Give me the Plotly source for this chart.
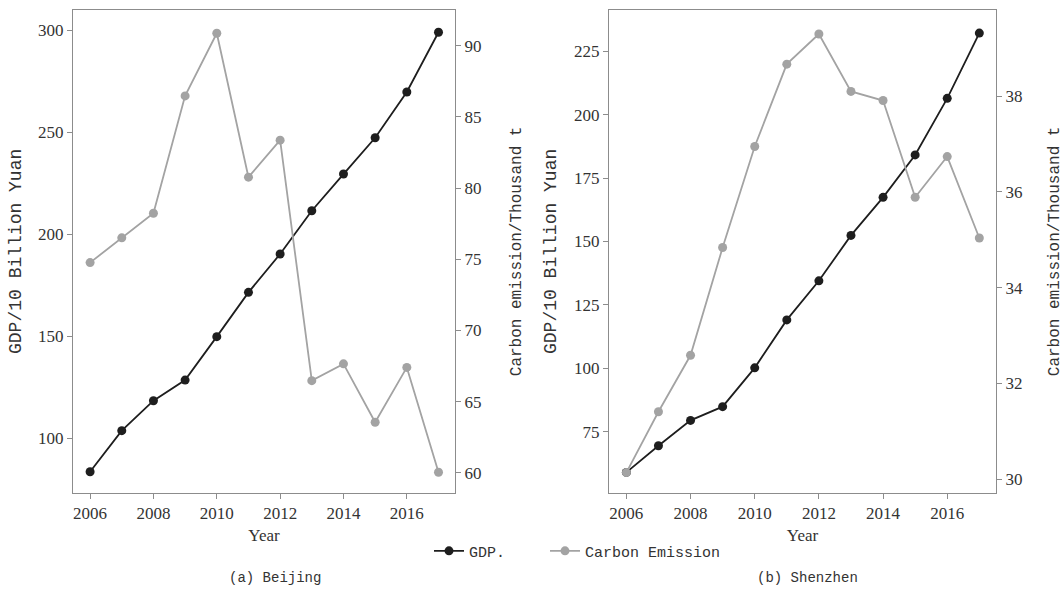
import plotly.graph_objects as go

years = [2006, 2007, 2008, 2009, 2010, 2011, 2012, 2013, 2014, 2015, 2016, 2017]

beijing_gdp = [83.5, 103.6, 118.3, 128.4, 149.7, 171.4, 190.2, 211.4, 229.4, 247.2, 269.6, 298.9]
beijing_carbon = [74.76, 76.5, 78.23, 86.47, 90.87, 80.76, 83.36, 66.47, 67.65, 63.55, 67.4, 60.04]

shenzhen_gdp = [59.0, 69.5, 79.5, 84.9, 100.2, 119.1, 134.5, 152.4, 167.4, 184.1, 206.4, 232.1]
shenzhen_carbon = [30.14, 31.41, 32.59, 34.84, 36.95, 38.67, 39.3, 38.1, 37.91, 35.89, 36.74, 35.04]

x_ticks = [2006, 2008, 2010, 2012, 2014, 2016]
bj_gdp_ticks = [100, 150, 200, 250, 300]
bj_carbon_ticks = [60, 65, 70, 75, 80, 85, 90]
sz_gdp_ticks = [75, 100, 125, 150, 175, 200, 225]
sz_carbon_ticks = [30, 32, 34, 36, 38]

BLACK = "#1e1e1e"
GRAY = "#a3a3a3"
AX = "#8c8c8c"
TXT = "#333333"
SERIF = "Liberation Serif"
MONO = "Liberation Mono"

fig = go.Figure()

def add(x, y, name, color, xa, ya, show, legend):
    fig.add_trace(go.Scatter(
        x=x, y=y, name=name, mode="lines+markers",
        line=dict(color=color, width=1.8),
        marker=dict(color=color, size=9),
        xaxis=xa, yaxis=ya, showlegend=show, legend=legend,
    ))

add(years, beijing_carbon, "Carbon Emission", GRAY, "x", "y2", False, "legend2")
add(years, beijing_gdp, "GDP.", BLACK, "x", "y", True, "legend")
add(years, shenzhen_carbon, "Carbon Emission", GRAY, "x2", "y4", True, "legend2")
add(years, shenzhen_gdp, "GDP.", BLACK, "x2", "y3", False, "legend")

def xax(domain, anchor):
    return dict(
        domain=domain, anchor=anchor, range=[2005.46, 2017.52],
        tickvals=x_ticks, ticks="outside", ticklen=5, tickcolor=AX,
        showline=True, linecolor=AX, linewidth=1.2, mirror=True,
        showgrid=False, zeroline=False,
        tickfont=dict(family=SERIF, size=17, color=TXT),
        title=dict(text="Year", font=dict(family=SERIF, size=17, color=TXT), standoff=6),
    )

def yax(rng, ticks, title, side, anchor, tsize, standoff, overlaying=None, font=MONO):
    d = dict(
        domain=[0.1649, 0.983], anchor=anchor, range=rng, tickvals=ticks,
        side=side, ticks="outside", ticklen=5, tickcolor=AX,
        showline=True, linecolor=AX, linewidth=1.2,
        showgrid=False, zeroline=False,
        tickfont=dict(family=SERIF, size=17, color=TXT),
        title=dict(text=title, font=dict(family=font, size=tsize, color=TXT), standoff=standoff),
    )
    if overlaying:
        d["overlaying"] = overlaying
    return d

leg_common = dict(
    orientation="h", y=0.066, yanchor="middle", xanchor="left",
    font=dict(family=MONO, size=15, color=TXT), itemwidth=30,
    bgcolor="rgba(0,0,0,0)",
)

fig.update_layout(
    width=1064, height=590,
    margin=dict(l=0, r=0, t=0, b=0),
    paper_bgcolor="white", plot_bgcolor="white",
    xaxis=xax([0.0686, 0.4276], "y"),
    xaxis2=xax([0.5724, 0.9361], "y3"),
    yaxis=yax([73.2, 309.8], bj_gdp_ticks, "GDP/10 Billion Yuan", "left", "x", 18, 11),
    yaxis2=yax([58.6, 92.5], bj_carbon_ticks, "Carbon emission/Thousand t", "right", "x", 16, 29, overlaying="y"),
    yaxis3=yax([51.0, 241.2], sz_gdp_ticks, "GDP/10 Billion Yuan", "left", "x2", 18, 12),
    yaxis4=yax([29.72, 39.8], sz_carbon_ticks, "Carbon emission/Thousand t", "right", "x2", 16, 25, overlaying="y3"),
    legend=dict(x=(439 - 10) / 1064, **leg_common),
    legend2=dict(x=(555 - 10) / 1064, **leg_common),
    annotations=[
        dict(text="(a) Beijing", x=0.2585, y=0.0203, xref="paper", yref="paper",
             showarrow=False, xanchor="center", yanchor="middle",
             font=dict(family=MONO, size=14, color=TXT)),
        dict(text="(b) Shenzhen", x=0.7585, y=0.0203, xref="paper", yref="paper",
             showarrow=False, xanchor="center", yanchor="middle",
             font=dict(family=MONO, size=14, color=TXT)),
    ],
)

fig.write_html("out.html", config={"displayModeBar": False},
               post_script="document.body.style.margin='0';")
